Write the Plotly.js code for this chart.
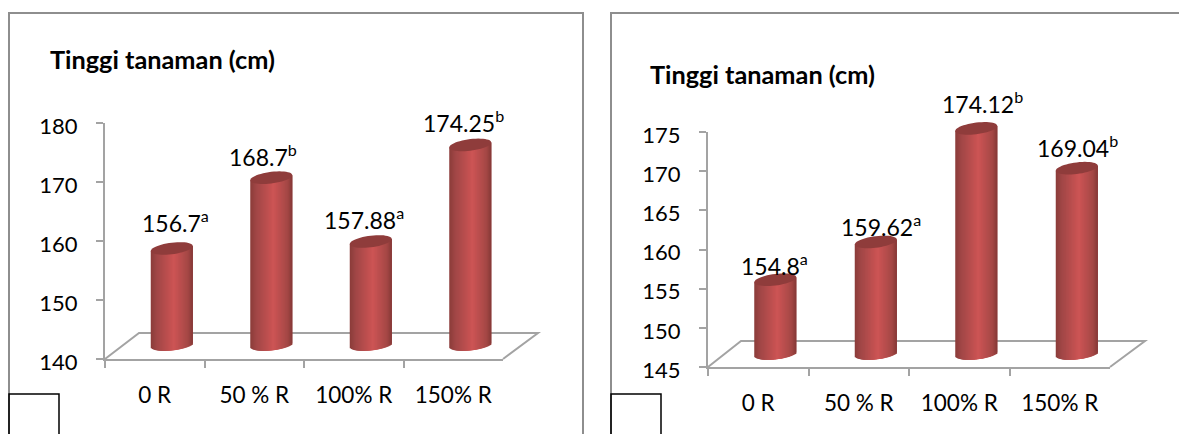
<!DOCTYPE html>
<html>
<head>
<meta charset="utf-8">
<script src="https://cdn.plot.ly/plotly-3.0.1.min.js"></script>
<style>html,body{margin:0;padding:0;background:#fff;overflow:hidden}</style>
</head>
<body>
<div id="chart" style="width:1179px;height:434px"></div>
<script>
var categoriesLeft = ["0 R", "50 % R", "100% R", "150% R"];
var categoriesRight = ["0 R", "50 % R", "100% R", "150% R"];
var valuesLeft = [156.7, 168.7, 157.88, 174.25];
var valuesRight = [154.8, 159.62, 174.12, 169.04];
var lettersLeft = ["a", "b", "a", "b"];
var lettersRight = ["a", "a", "b", "b"];
var titleText = "Tinggi tanaman (cm)";

var W = 1179, H = 434;
var FONT = "Lato, Carlito, sans-serif";
var GRAY = "#a3a3a3", FRAME = "#8e8e8e";
var px = function (v) { return v / W; };
var py = function (v) { return 1 - v / H; };

var panels = [
  { cats: categoriesLeft, vals: valuesLeft, letters: lettersLeft,
    xL: 105, xR: 503, yT: 123, yB: 359, range: [140, 180], dtick: 10,
    dx: 17, dy: 12, floorY: 333, floorL: 139, floorR: 538, bottomLift: 2.5,
    lx: [3.5, -8.5, -7, -7], ly: [27, 22, 23, 23],
    titleX: 48, titleY: 59, frame: [9, 583], box: 9 },
  { cats: categoriesRight, vals: valuesRight, letters: lettersRight,
    xL: 708, xR: 1110, yT: 132, yB: 367, range: [145, 175], dtick: 5,
    dx: 17, dy: 10.5, floorY: 341, floorL: 741, floorR: 1145, bottomLift: 3,
    lx: [-0.5, 5, 6.5, 0.5], ly: [15, 16, 26, 22],
    titleX: 648, titleY: 74, frame: [611, 1181], box: 611 }
];

var stops = [[0, [138,60,58]], [0.14, [160,70,70]], [0.55, [205,84,84]], [0.88, [165,72,70]], [1, [134,57,55]]];
function shade(t) {
  for (var i = 1; i < stops.length; i++) {
    if (t <= stops[i][0]) {
      var a = stops[i-1], b = stops[i], f = (t - a[0]) / (b[0] - a[0]);
      return "rgb(" + [0,1,2].map(function (k) { return Math.round(a[1][k] + f * (b[1][k] - a[1][k])); }).join(",") + ")";
    }
  }
  return "rgb(134,57,55)";
}

var RX = 21, RY = 5.8, TILT = 0.12, EXTRA = 14;
var traces = [], shapes = [], annotations = [];
var layout = {
  width: W, height: H, margin: { l: 0, r: 0, t: 0, b: 0 },
  paper_bgcolor: "#fff", plot_bgcolor: "rgba(0,0,0,0)",
  barmode: "overlay", showlegend: false, hovermode: false
};

panels.forEach(function (p, idx) {
  var a = idx * 2;
  var mainX = "x" + (a ? a + 1 : ""), mainY = "y" + (a ? a + 1 : "");
  var hidX = "x" + (a + 2), hidY = "y" + (a + 2);
  var key = function (s) { return s.replace("x", "xaxis").replace("y", "yaxis"); };
  var unitX = (p.xR - p.xL) / 4, unitY = (p.yB - p.yT) / (p.range[1] - p.range[0]);

  layout[key(mainX)] = {
    domain: [px(p.xL), px(p.xR)], anchor: mainY, type: "category", categoryorder: "array", categoryarray: p.cats,
    range: [-0.5, 3.5], tickson: "boundaries", ticks: "outside", ticklen: 7, tickwidth: 2, tickcolor: GRAY,
    showline: true, linecolor: GRAY, linewidth: 2, showgrid: false, zeroline: false,
    ticklabelstandoff: 15, tickfont: { family: FONT, size: 22.5, color: "#000" }
  };
  layout[key(mainY)] = {
    domain: [py(p.yB), py(p.yT)], anchor: mainX, range: p.range, dtick: p.dtick, ticks: "outside", ticklen: 7,
    tickwidth: 2, tickcolor: GRAY, showline: true, linecolor: GRAY, linewidth: 2, showgrid: false, zeroline: false,
    ticklabelstandoff: 14, ticklabelshift: 3, tickfont: { family: FONT, size: 22, color: "#000" }
  };
  layout[key(hidX)] = {
    domain: [px(p.xL + p.dx), px(p.xR + p.dx)], anchor: hidY, type: "category", categoryorder: "array", categoryarray: p.cats,
    range: [-0.5, 3.5], visible: false
  };
  layout[key(hidY)] = {
    domain: [py(p.yB - p.dy + EXTRA), py(p.yT - p.dy)], anchor: hidX,
    range: [p.range[0] - EXTRA / unitY, p.range[1]], visible: false
  };

  var floorVal = p.range[0] + p.bottomLift / unitY;

  // each strip overlaps the next, so no white shows through the strip edges
  for (var s = -RX; s < RX; s++) {
    var mid = s + 0.5, r = mid / RX;
    var lower = RY * Math.sqrt(Math.max(0, 1 - r * r)) - TILT * mid;
    var baseVal = floorVal - lower / unitY;
    var topShift = TILT * mid / unitY;
    traces.push({
      type: "bar", xaxis: hidX, yaxis: hidY, x: p.cats,
      y: p.vals.map(function (v) { return v + topShift - baseVal; }),
      base: baseVal, width: Math.min(3, RX - s) / unitX, offset: s / unitX, opacity: 1,
      marker: { color: shade((s + RX + 0.5) / (2 * RX)), line: { width: 0 }, opacity: 1 },
      hoverinfo: "skip"
    });
  }

  // top cap of each cylinder, anchored on the hidden axes through the value
  var pts = [];
  for (var i = 0; i < 48; i++) {
    var th = i / 48 * 2 * Math.PI;
    var ex = RX * Math.cos(th), ey = RY * Math.sin(th);
    pts.push((i ? "L" : "M") + ex.toFixed(2) + "," + (ey + TILT * ex).toFixed(2));
  }
  var capPath = pts.join(" ") + " Z";
  p.cats.forEach(function (c, i) {
    shapes.push({
      type: "path", layer: "above", xref: hidX, yref: hidY, xsizemode: "pixel", ysizemode: "pixel",
      xanchor: c, yanchor: p.vals[i], path: capPath, fillcolor: "#8f3c3b", line: { width: 0 }
    });
    annotations.push({
      xref: hidX, yref: hidY, x: c, y: p.vals[i], xshift: p.lx[i], yshift: p.ly[i], showarrow: false,
      xanchor: "center", yanchor: "middle", text: p.vals[i] + "<sup>" + p.letters[i] + "</sup>",
      font: { family: FONT, size: 23, color: "#000" }
    });
  });

  // floor of the 3D box
  shapes.push({
    type: "path", layer: "below", xref: "paper", yref: "paper",
    path: "M" + px(p.xL) + "," + py(p.yB) + " L" + px(p.floorL) + "," + py(p.floorY) + " L" + px(p.floorR) + "," + py(p.floorY) + " L" + px(p.xR) + "," + py(p.yB),
    line: { color: GRAY, width: 2 }
  });
  // outer frame
  shapes.push({
    type: "path", layer: "below", xref: "paper", yref: "paper",
    path: "M" + px(p.frame[0]) + ",-0.01 L" + px(p.frame[0]) + "," + py(13) + " L" + px(p.frame[1]) + "," + py(13) + " L" + px(p.frame[1]) + ",-0.01",
    line: { color: FRAME, width: 2 }
  });
  // small empty box at the lower left
  shapes.push({
    type: "path", layer: "above", xref: "paper", yref: "paper",
    path: "M" + px(p.box) + ",-0.01 L" + px(p.box) + "," + py(394) + " L" + px(p.box + 50) + "," + py(394) + " L" + px(p.box + 50) + ",-0.01",
    line: { color: "#000", width: 1.5 }
  });
  annotations.push({
    xref: "paper", yref: "paper", x: px(p.titleX), y: py(p.titleY), xanchor: "left", yanchor: "middle",
    showarrow: false, text: "<b>" + titleText + "</b>", font: { family: FONT, size: 25.3, color: "#000" }
  });

  // carrier trace so the visible axes exist and keep their categories
  traces.push({
    type: "scatter", mode: "markers", xaxis: mainX, yaxis: mainY, x: p.cats, y: p.vals,
    marker: { size: 1, opacity: 0 }, hoverinfo: "skip"
  });
});

layout.shapes = shapes;
layout.annotations = annotations;
Plotly.newPlot("chart", traces, layout, { displayModeBar: false, staticPlot: true });
</script>
</body>
</html>
